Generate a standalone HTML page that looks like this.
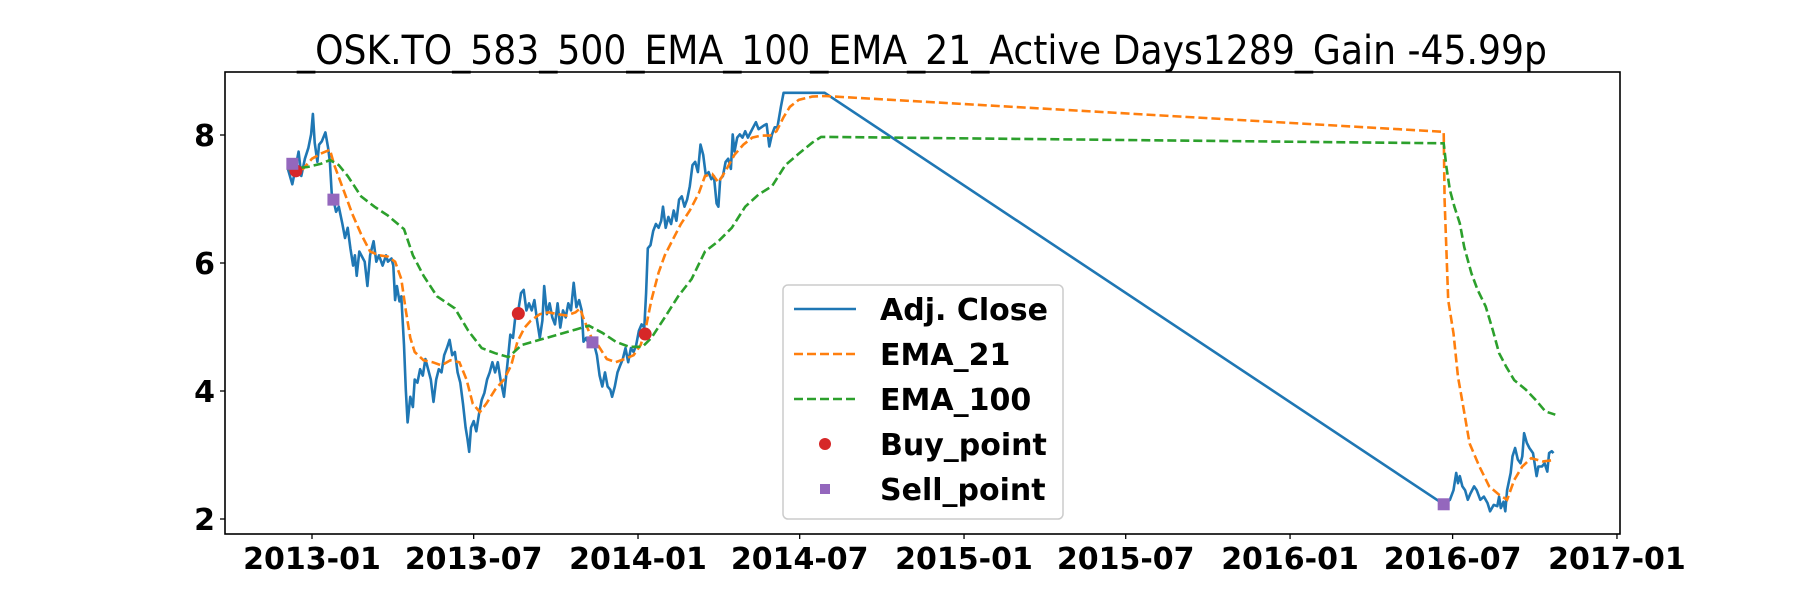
<!DOCTYPE html>
<html><head><meta charset="utf-8"><style>
html,body{margin:0;padding:0;background:#fff;}
svg{display:block;font-family:"DejaVu Sans","Liberation Sans",sans-serif;}
</style></head><body>
<svg id="chart" width="1800" height="600" viewBox="0 0 1800 600" xmlns="http://www.w3.org/2000/svg">
<rect x="0" y="0" width="1800" height="600" fill="#fff"/>
<text x="922" y="64" text-anchor="middle" font-size="40" textLength="1250" lengthAdjust="spacingAndGlyphs" fill="#000">_OSK.TO_583_500_EMA_100_EMA_21_Active Days1289_Gain -45.99p</text>
<g id="plot"></g>
<rect x="225" y="72" width="1395" height="462" fill="none" stroke="#000" stroke-width="1.6"/>
<g id="axes"></g>
<g id="legend">
<rect x="783" y="285" width="280" height="234" rx="5" fill="#fff" fill-opacity="0.8" stroke="#ccc" stroke-width="1.5"/>
<line x1="794" y1="309" x2="856" y2="309" stroke="#1f77b4" stroke-width="2.6"/>
<text x="880" y="320" font-size="30" font-weight="bold">Adj. Close</text>
<line x1="794" y1="354" x2="856" y2="354" stroke="#ff7f0e" stroke-width="2.6" stroke-dasharray="9,4"/>
<text x="880" y="365" font-size="30" font-weight="bold">EMA_21</text>
<line x1="794" y1="399" x2="856" y2="399" stroke="#2ca02c" stroke-width="2.6" stroke-dasharray="9,4"/>
<text x="880" y="410" font-size="30" font-weight="bold">EMA_100</text>
<circle cx="825" cy="444" r="6" fill="#d62728"/>
<text x="880" y="455" font-size="30" font-weight="bold">Buy_point</text>
<rect x="820" y="484" width="10" height="10" fill="#9467bd"/>
<text x="880" y="500" font-size="30" font-weight="bold">Sell_point</text>
</g>
</svg>
<script>
// days are offsets from 2013-01-01
const closeDays = [-27,-22,-19,-15,-12,-8,-4,-1,1,3,6,8,11,15,18,20,22,24,27,30,34,37,40,43,46,48,50,53,56,59,62,65,69,72,75,79,83,85,89,91,93,95,98,100,103,105,107,110,113,115,118,121,124,127,130,133,136,139,142,145,148,151,154,157,160,163,166,169,172,174,176,178,181,184,187,190,193,196,199,202,205,208,211,215,219,222,225,228,231,234,237,240,243,246,249,252,255,258,260,263,266,269,272,275,278,281,284,287,290,293,296,299,302,304,307,310,313,316,319,322,325,328,331,334,336,339,342,345,348,351,354,357,360,363,366,369,372,374,376,379,382,385,388,391,393,396,399,402,405,408,411,414,417,420,423,426,429,432,435,438,441,444,447,450,453,455,457,460,463,466,469,471,473,476,479,482,485,488,491,494,497,500,503,506,509,512,515,518,521,525,528,574,
1267,1274,1278,1281,1283,1285,1288,1291,1294,1297,1301,1304,1308,1312,1316,1319,1323,1327,1329,1331,1334,1336,1338,1342,1344,1347,1350,1353,1355,1357,1360,1363,1367,1371,1373,1377,1380,1383,1385,1388,1390];
const closeVals = [7.47,7.23,7.44,7.74,7.36,7.63,7.8,8.01,8.33,7.88,7.58,7.85,7.9,8.04,7.8,7.58,7.09,6.99,6.8,6.88,6.61,6.39,6.55,6.23,5.96,6.12,5.8,6.18,6.1,6.02,5.64,6.12,6.34,6.02,6.12,5.96,6.12,6.02,6.07,5.96,5.42,5.64,5.4,5.48,4.72,4.02,3.51,3.91,3.75,4.18,4.13,4.34,4.24,4.5,4.34,4.18,3.83,4.18,4.34,4.29,4.56,4.67,4.8,4.56,4.61,4.29,4.13,3.8,3.43,3.26,3.05,3.43,3.53,3.37,3.64,3.86,3.97,4.18,4.29,4.45,4.29,4.45,4.18,3.91,4.45,4.88,4.83,5.2,5.26,5.53,5.58,5.26,5.37,5.26,5.42,5.1,4.83,5.1,5.64,5.2,5.37,5.15,5.04,5.37,4.99,5.26,5.15,5.37,5.26,5.69,5.31,5.42,5.26,4.77,4.83,4.72,4.77,4.72,4.56,4.24,4.07,4.29,4.07,4.02,3.91,4.07,4.29,4.4,4.5,4.67,4.45,4.67,4.61,4.72,4.94,5.04,4.99,5.53,6.23,6.28,6.5,6.61,6.55,6.66,6.88,6.55,6.72,6.61,6.82,6.66,6.99,7.04,6.88,6.99,7.2,7.53,7.58,7.42,7.85,7.69,7.36,7.42,7.31,7.36,6.93,6.88,7.31,7.36,7.58,7.63,7.47,8.01,7.74,7.96,8.01,7.96,8.06,7.96,8.04,8.12,8.2,8.09,8.12,8.15,8.17,7.82,8.01,8.12,8.12,8.44,8.66,8.66,
2.23,2.30,2.45,2.72,2.56,2.67,2.51,2.45,2.30,2.40,2.51,2.45,2.30,2.35,2.25,2.12,2.22,2.20,2.35,2.17,2.27,2.12,2.45,2.72,2.98,3.11,2.93,2.87,2.98,3.34,3.19,3.11,3.03,2.67,2.82,2.82,2.87,2.74,3.03,3.06,3.03];
const ema21Days = [-27,-10,0,10,20,25,35,45,55,65,75,85,93,100,105,110,115,125,135,145,155,165,173,180,188,195,205,215,223,230,238,245,255,265,275,285,295,300,305,313,320,330,340,350,360,368,373,380,388,395,403,413,423,433,440,448,455,463,473,483,493,503,513,520,528,535,545,560,574,
1267,1268,1272,1278,1283,1289,1296,1307,1318,1329,1338,1346,1355,1365,1378,1390];
const ema21Vals = [7.47,7.47,7.63,7.71,7.77,7.53,7.15,6.77,6.45,6.18,6.12,6.1,6.02,5.75,5.26,4.83,4.61,4.48,4.45,4.4,4.48,4.45,4.18,3.8,3.67,3.8,4.02,4.18,4.4,4.77,4.99,5.1,5.2,5.23,5.2,5.18,5.23,5.29,5.1,4.83,4.72,4.5,4.45,4.5,4.56,4.72,4.94,5.42,5.85,6.12,6.34,6.61,6.82,7.09,7.36,7.39,7.26,7.44,7.69,7.85,7.96,7.99,7.99,8.06,8.28,8.44,8.55,8.6,8.61,
8.05,6.98,5.42,4.90,4.22,3.75,3.18,2.82,2.51,2.38,2.30,2.61,2.82,2.95,2.90,2.92];
const ema100Days = [-27,-5,10,20,30,40,55,70,85,103,113,125,140,160,175,190,205,220,235,255,275,295,310,325,340,355,370,380,395,410,425,440,455,470,485,500,515,530,545,560,570,574,
1267,1270,1274,1279,1285,1290,1298,1305,1314,1322,1329,1337,1346,1359,1370,1381,1392];
const ema100Vals = [7.47,7.5,7.55,7.61,7.53,7.36,7.04,6.88,6.74,6.53,6.12,5.8,5.48,5.29,4.94,4.67,4.59,4.53,4.72,4.8,4.88,4.96,5.02,4.91,4.77,4.69,4.69,4.83,5.15,5.48,5.75,6.18,6.34,6.55,6.88,7.07,7.2,7.53,7.71,7.88,7.97,7.97,
7.87,7.50,7.14,6.88,6.62,6.25,5.84,5.58,5.32,4.95,4.59,4.38,4.17,4.02,3.86,3.68,3.63];
const buyDays = [-18,231,373];
const buyVals = [7.44,5.21,4.89];
const sellDays = [-22,24,314,1267];
const sellVals = [7.55,6.99,4.76,2.23];
const xTickLabels = ["2013-01","2013-07","2014-01","2014-07","2015-01","2015-07","2016-01","2016-07","2017-01"];
const xTickDays = [0,181,365,546,730,911,1095,1277,1461];
const yTickVals = [2,4,6,8];

const NS = "http://www.w3.org/2000/svg";
function xs(d){ return 312 + d * 0.8932; }
function ys(v){ return 135 + (8 - v) * 64; }
function mk(tag, attrs, parent){
  const e = document.createElementNS(NS, tag);
  for (const k in attrs) e.setAttribute(k, attrs[k]);
  parent.appendChild(e);
  return e;
}
const plot = document.getElementById("plot");
const axes = document.getElementById("axes");
function path(days, vals){
  return days.map((d,i)=>(i?"L":"M")+xs(d).toFixed(1)+","+ys(vals[i]).toFixed(1)).join("");
}
const l1 = mk("path",{d:path(closeDays,closeVals),fill:"none",stroke:"#1f77b4","stroke-width":2.6,"stroke-linejoin":"round"},plot);


const l2 = mk("path",{d:path(ema21Days,ema21Vals),fill:"none",stroke:"#ff7f0e","stroke-width":2.6,"stroke-dasharray":"9,4"},plot);


const l3 = mk("path",{d:path(ema100Days,ema100Vals),fill:"none",stroke:"#2ca02c","stroke-width":2.6,"stroke-dasharray":"9,4"},plot);


buyDays.forEach((d,i)=>{
  const c = mk("circle",{cx:xs(d),cy:ys(buyVals[i]),r:6.5,fill:"#d62728"},plot);
  
  
});
sellDays.forEach((d,i)=>{
  const r = mk("rect",{x:xs(d)-6,y:ys(sellVals[i])-6,width:12,height:12,fill:"#9467bd"},plot);
  
  
});
xTickLabels.forEach((lab,i)=>{
  const x = xs(xTickDays[i]);
  mk("line",{x1:x,y1:534,x2:x,y2:539,stroke:"#000","stroke-width":1.3},axes);
  const t = mk("text",{x:x,y:569,"text-anchor":"middle","font-size":30,"font-weight":"bold"},axes);
  t.textContent = lab;
  
  
});
yTickVals.forEach(v=>{
  const y = ys(v);
  mk("line",{x1:220,y1:y,x2:225,y2:y,stroke:"#000","stroke-width":1.3},axes);
  const t = mk("text",{x:215,y:y+11,"text-anchor":"end","font-size":30,"font-weight":"bold"},axes);
  t.textContent = String(v);
  
  
});
</script>
</body></html>
